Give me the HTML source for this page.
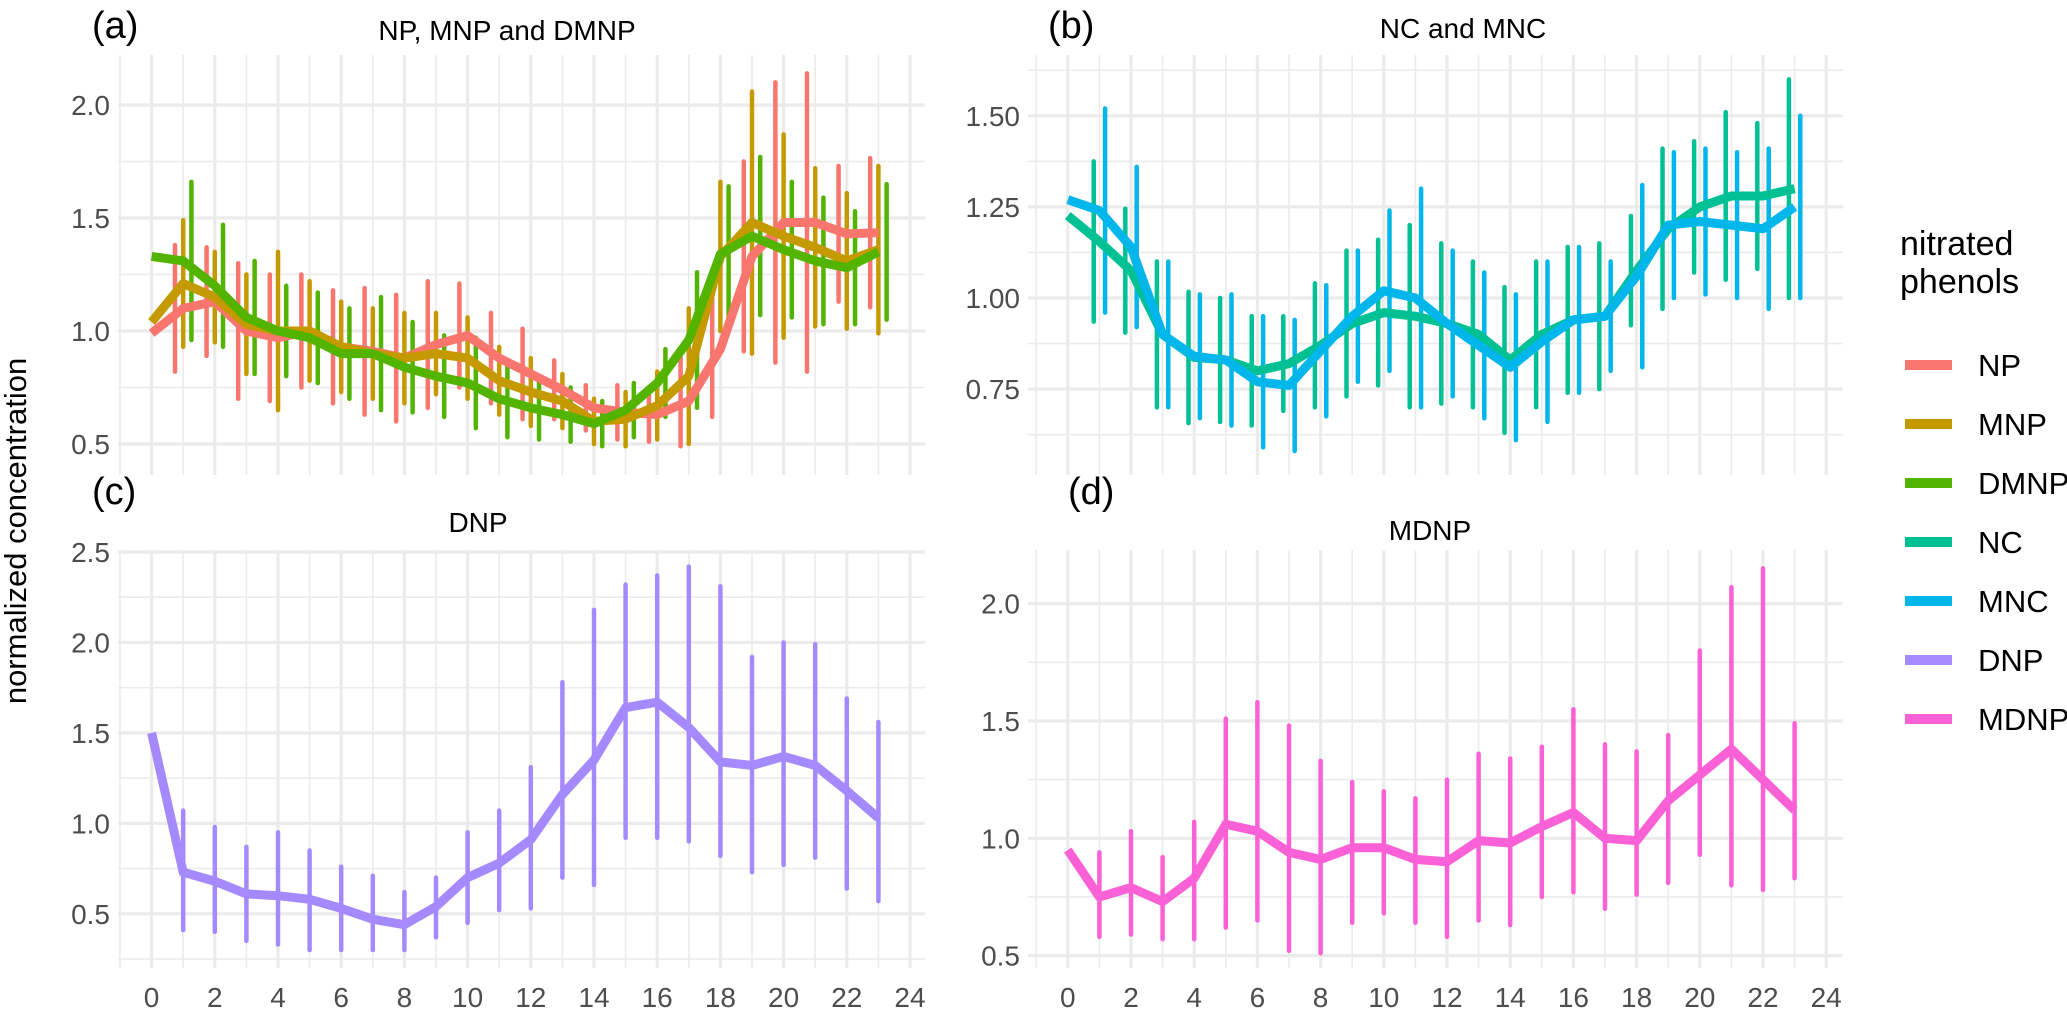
<!DOCTYPE html>
<html><head><meta charset="utf-8"><style>
html,body{margin:0;padding:0;background:#fff;}
svg{display:block;font-family:"Liberation Sans",Arial,sans-serif;}
</style></head><body>
<svg id="chart" width="2067" height="1009" viewBox="0 0 2067 1009" xmlns="http://www.w3.org/2000/svg">
<g id="panels"></g>
<text x="0" y="0" transform="translate(26,531) rotate(-90)" text-anchor="middle" font-size="31" fill="#000">normalized concentration</text>
<g>
<text x="1900" y="255" font-size="34" fill="#000">nitrated</text>
<text x="1900" y="293" font-size="34" fill="#000">phenols</text>
<g id="legendItems"></g>
</g>
</svg>
<script>
const hours = [0,1,2,3,4,5,6,7,8,9,10,11,12,13,14,15,16,17,18,19,20,21,22,23];
const npMean = [0.99,1.10,1.13,1.00,0.97,1.00,0.93,0.91,0.88,0.94,0.98,0.88,0.81,0.74,0.66,0.64,0.63,0.69,0.92,1.33,1.48,1.48,1.43,1.435];
const npErr = [0,0.28,0.24,0.30,0.28,0.25,0.25,0.28,0.28,0.28,0.23,0.20,0.20,0.13,0.10,0.12,0.12,0.20,0.30,0.42,0.62,0.66,0.30,0.33];
const mnpMean = [1.04,1.21,1.15,1.03,1.00,1.00,0.93,0.90,0.88,0.90,0.88,0.78,0.73,0.69,0.60,0.61,0.67,0.80,1.33,1.48,1.42,1.37,1.31,1.36];
const mnpErr = [0,0.28,0.20,0.22,0.35,0.22,0.20,0.20,0.20,0.18,0.18,0.15,0.15,0.12,0.10,0.12,0.15,0.30,0.33,0.58,0.45,0.35,0.30,0.37];
const dmnpMean = [1.33,1.31,1.20,1.06,1.00,0.97,0.90,0.90,0.84,0.80,0.77,0.70,0.66,0.63,0.59,0.65,0.77,0.96,1.34,1.42,1.36,1.31,1.28,1.35];
const dmnpErr = [0,0.35,0.27,0.25,0.20,0.20,0.20,0.25,0.20,0.18,0.20,0.17,0.14,0.12,0.10,0.12,0.15,0.30,0.30,0.35,0.30,0.28,0.25,0.30];
const ncMean = [1.226,1.155,1.075,0.90,0.837,0.83,0.80,0.82,0.87,0.93,0.96,0.95,0.93,0.90,0.83,0.90,0.94,0.95,1.075,1.19,1.25,1.28,1.28,1.30];
const ncErr = [0,0.22,0.17,0.20,0.18,0.17,0.15,0.13,0.17,0.20,0.20,0.25,0.22,0.20,0.20,0.20,0.20,0.20,0.15,0.22,0.18,0.23,0.20,0.30];
const mncMean = [1.27,1.24,1.14,0.90,0.84,0.83,0.77,0.76,0.855,0.95,1.02,1.00,0.93,0.87,0.81,0.88,0.94,0.95,1.06,1.20,1.21,1.20,1.19,1.25];
const mncErr = [0,0.28,0.22,0.20,0.17,0.18,0.18,0.18,0.18,0.18,0.22,0.30,0.20,0.20,0.20,0.22,0.20,0.15,0.25,0.20,0.20,0.20,0.22,0.25];
const dnpMean = [1.50,0.73,0.68,0.61,0.60,0.58,0.53,0.47,0.44,0.54,0.70,0.78,0.91,1.16,1.35,1.64,1.67,1.53,1.34,1.32,1.37,1.32,1.18,1.03];
const dnpTop = [1.50,1.07,0.98,0.87,0.95,0.85,0.76,0.71,0.62,0.70,0.95,1.07,1.31,1.78,2.18,2.32,2.37,2.42,2.31,1.92,2.00,1.99,1.69,1.56];
const dnpBottom = [1.50,0.41,0.40,0.35,0.33,0.30,0.30,0.30,0.30,0.37,0.45,0.52,0.53,0.70,0.66,0.92,0.92,0.90,0.82,0.73,0.77,0.81,0.64,0.57];
const mdnpMean = [0.95,0.75,0.79,0.73,0.83,1.06,1.03,0.94,0.91,0.96,0.96,0.91,0.90,0.99,0.98,1.05,1.11,1.00,0.99,1.16,1.27,1.38,1.25,1.12];
const mdnpTop = [0.95,0.94,1.03,0.92,1.07,1.51,1.58,1.48,1.33,1.24,1.20,1.17,1.25,1.36,1.34,1.39,1.55,1.40,1.37,1.44,1.80,2.07,2.15,1.49];
const mdnpBottom = [0.95,0.58,0.59,0.57,0.57,0.62,0.65,0.52,0.51,0.64,0.68,0.64,0.58,0.65,0.63,0.75,0.77,0.70,0.76,0.81,0.93,0.80,0.78,0.83];
const xTicks = [0,2,4,6,8,10,12,14,16,18,20,22,24];
const yTicksA = [0.5,1.0,1.5,2.0];
const yTicksB = [0.75,1.00,1.25,1.50];
const yTicksC = [0.5,1.0,1.5,2.0,2.5];
const yTicksD = [0.5,1.0,1.5,2.0];
const legendNames = ["NP","MNP","DMNP","NC","MNC","DNP","MDNP"];
const legendColors = ["#F8766D","#C49A00","#53B400","#00C094","#00B6EB","#A58AFF","#FB61D7"];

const NS="http://www.w3.org/2000/svg";
function mk(tag,attrs,parent){const e=document.createElementNS(NS,tag);for(const k in attrs)e.setAttribute(k,attrs[k]);parent.appendChild(e);return e;}
const root=document.getElementById('panels');

function panel(cfg){
  const g=mk('g',{},root);
  
  
  const xs=h=>cfg.x0+31.6*h;
  const ys=v=>cfg.yRef+(cfg.vRef-v)*cfg.ppu;
  for(let h=-1;h<=25;h+=2){const x=xs(h);if(x<cfg.left||x>cfg.right)continue;
    const l=mk('line',{x1:x,x2:x,y1:cfg.top,y2:cfg.bottom,stroke:'#ebebeb','stroke-width':1.6},g);
    }
  const step=cfg.yTicks[1]-cfg.yTicks[0];
  for(let v=cfg.yTicks[0]-step*1.5;v<=cfg.yTicks[cfg.yTicks.length-1]+step;v+=step){const y=ys(v);if(y<cfg.top||y>cfg.bottom)continue;
    const l=mk('line',{x1:cfg.left,x2:cfg.right,y1:y,y2:y,stroke:'#ebebeb','stroke-width':1.6},g);
    }
  xTicks.forEach(h=>{const x=xs(h);
    const l=mk('line',{x1:x,x2:x,y1:cfg.top,y2:cfg.bottom,stroke:'#ebebeb','stroke-width':3.2},g);
    
    if(cfg.showX){const t=mk('text',{x:x,y:1007,'text-anchor':'middle','font-size':28,fill:'#4d4d4d'},g);t.textContent=h;
      }
  });
  cfg.yTicks.forEach(v=>{const y=ys(v);
    const l=mk('line',{x1:cfg.left,x2:cfg.right,y1:y,y2:y,stroke:'#ebebeb','stroke-width':3.2},g);
    
    const t=mk('text',{x:cfg.left-8,y:y+10,'text-anchor':'end','font-size':28,fill:'#4d4d4d'},g);t.textContent=v.toFixed(cfg.dec);
    
  });
  const lab=mk('text',{x:cfg.labX,y:cfg.labY,'font-size':38,fill:'#000'},g);lab.textContent=cfg.label;
  
  const tt=mk('text',{x:cfg.titleX,y:cfg.titleY,'text-anchor':'middle','font-size':28,fill:'#000'},g);tt.textContent=cfg.title;
  
  const n=cfg.series.length;
  cfg.series.forEach((s,i)=>{
    const off=n>1?(i-(n-1)/2)*cfg.dodge:0;
    hours.forEach((h,k)=>{
      const hi=s.top?s.top[k]:s.mean[k]+s.err[k];
      const lo=s.bottom?s.bottom[k]:s.mean[k]-s.err[k];
      if(!(hi-lo>0))return;
      const x=xs(h+off);
      const b=mk('line',{x1:x,x2:x,y1:ys(hi),y2:ys(lo),stroke:s.color,'stroke-width':4.5,'stroke-linecap':'round'},g);
      
    });
  });
  cfg.series.forEach(s=>{
    const pts=hours.map((h,k)=>xs(h)+','+ys(s.mean[k])).join(' ');
    const p=mk('polyline',{points:pts,fill:'none',stroke:s.color,'stroke-width':9,'stroke-linejoin':'round'},g);
    
  });
}
panel({name:'panel-a',x0:151.6,left:118,right:925,top:55,bottom:475,yRef:444,vRef:0.5,ppu:226,yTicks:yTicksA,dec:1,showX:false,dodge:0.26,
  label:'(a)',labX:92,labY:38,title:'NP, MNP and DMNP',titleX:507,titleY:40,
  series:[{key:'np',mean:npMean,err:npErr,color:legendColors[0]},{key:'mnp',mean:mnpMean,err:mnpErr,color:legendColors[1]},{key:'dmnp',mean:dmnpMean,err:dmnpErr,color:legendColors[2]}]});
panel({name:'panel-b',x0:1067.8,left:1028,right:1843,top:55,bottom:475,yRef:115.8,vRef:1.5,ppu:364.4,yTicks:yTicksB,dec:2,showX:false,dodge:0.36,
  label:'(b)',labX:1048,labY:38,title:'NC and MNC',titleX:1463,titleY:38,
  series:[{key:'nc',mean:ncMean,err:ncErr,color:legendColors[3]},{key:'mnc',mean:mncMean,err:mncErr,color:legendColors[4]}]});
panel({name:'panel-c',x0:151.6,left:118,right:925,top:550,bottom:968,yRef:552,vRef:2.5,ppu:180.9,yTicks:yTicksC,dec:1,showX:true,dodge:0,
  label:'(c)',labX:92,labY:504,title:'DNP',titleX:478,titleY:532,
  series:[{key:'dnp',mean:dnpMean,top:dnpTop,bottom:dnpBottom,color:legendColors[5]}]});
panel({name:'panel-d',x0:1067.8,left:1028,right:1843,top:550,bottom:968,yRef:603.6,vRef:2.0,ppu:234.7,yTicks:yTicksD,dec:1,showX:true,dodge:0,
  label:'(d)',labX:1068,labY:504,title:'MDNP',titleX:1430,titleY:540,
  series:[{key:'mdnp',mean:mdnpMean,top:mdnpTop,bottom:mdnpBottom,color:legendColors[6]}]});

const lg=document.getElementById('legendItems');
legendNames.forEach((nm,i)=>{
  const y=365+59*i;
  const r=mk('rect',{x:1905,y:y-5,width:47,height:10,fill:legendColors[i]},lg);
  
  
  const t=mk('text',{x:1978,y:y+11,'font-size':31,fill:'#000'},lg);t.textContent=nm;
  
  
});
</script>
</body></html>
